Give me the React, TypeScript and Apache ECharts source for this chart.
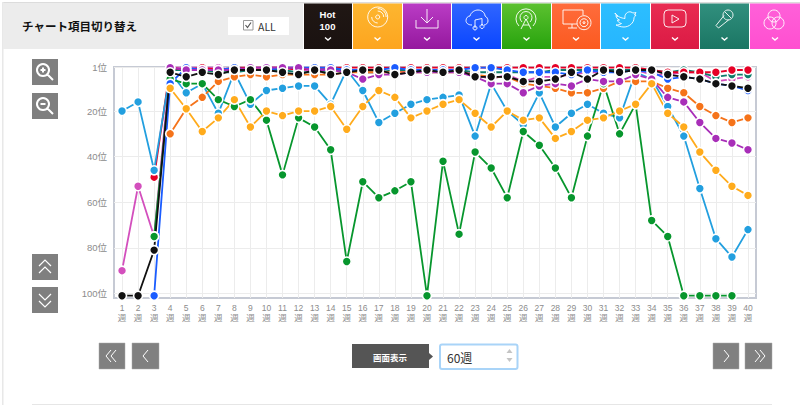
import React, { useEffect, useRef } from "react";
import * as echarts from "echarts";

const n = null;
const weeks = Array.from({ length: 40 }, (_, i) => `${i + 1}\n週`);
const yTicks = [1, 20, 40, 60, 80, 100];
const hot100 = [101,101,81,3,5,3,4,2,2,2,3,4,2,4,3,2,2,4,3,2,3,2,5,5,5,7,7,6,3,6,2,3,2,2,4,5,6,8,9,10];
const cdSales = [n,n,n,10,19,29,23,15,27,20,22,20,20,18,28,18,11,14,23,20,17,15,21,27,20,24,23,32,29,24,23,20,17,8,21,27,38,46,53,57];
const download = [n,n,n,1,2,2,2,2,1,1,1,1,2,2,3,6,4,4,3,3,3,3,5,8,8,12,9,8,9,6,7,7,4,6,14,16,25,32,34,37];
const streaming = [n,n,101,8,1,2,2,1,2,2,1,1,1,1,2,2,2,1,2,2,2,2,1,1,2,3,3,3,4,2,3,3,2,3,6,5,6,8,9,11];
const radio = [n,n,75,6,8,8,15,18,15,24,48,23,27,37,86,51,58,55,51,101,42,74,38,45,58,29,35,45,58,31,8,30,17,68,75,101,101,101,101,n];
const lookup = [n,n,n,30,19,14,7,5,4,5,4,4,4,4,3,3,3,3,3,3,3,3,4,5,5,8,9,10,12,12,10,7,7,7,10,12,18,22,25,23];
const twitter = [20,16,46,3,12,8,21,3,17,11,10,9,9,17,2,11,25,21,17,15,14,13,31,8,20,26,12,27,21,17,21,23,3,6,18,31,54,76,84,72];
const youtube = [n,n,49,1,2,1,2,1,1,1,1,2,1,1,1,1,1,1,1,1,1,1,1,1,1,1,1,1,1,1,1,1,1,2,3,3,3,3,2,2];
const karaoke = [n,n,n,2,2,2,3,3,2,2,2,3,3,2,2,3,3,2,2,2,2,2,3,3,3,3,3,2,2,2,2,2,2,2,3,2,3,5,4,4];
const pink = [90,53,75,1,1,1,1,2,1,1,1,2,2,1,2,3,3,3,2,2,2,2,4,6,4,7,5,5,4,3,3,2,2,4,4,3,3,7,6,5];

const seriesList: [string, (number | null)[], string][] = [
  ["複合", pink, "#d34fbd"],
  ["カラオケ", karaoke, "#0e7c6b"],
  ["YouTube", youtube, "#e60026"],
  ["Twitter", twitter, "#229fdf"],
  ["ルックアップ", lookup, "#f5731a"],
  ["ラジオ", radio, "#07962d"],
  ["ストリーミング", streaming, "#1a5cff"],
  ["ダウンロード", download, "#a82eb8"],
  ["CD", cdSales, "#ffab1c"],
  ["Hot 100", hot100, "#111111"],
];

const headerButtons: [number, number, string, string][] = [
  [304, 48, "#201714", "#1a1210"],
  [353, 49, "#fdb630", "#fda51f"],
  [403, 48, "#ba3cc5", "#95189e"],
  [452, 49, "#3065ff", "#0a46ff"],
  [502, 49, "#5cc130", "#27a30d"],
  [552, 48, "#ff6c3c", "#fb5a20"],
  [601, 49, "#2cbeff", "#26b6ff"],
  [651, 48, "#e92c52", "#db1a44"],
  [700, 49, "#318f7e", "#1a7663"],
  [750, 50, "#ff60d9", "#ff4fd0"],
];

const iconPaths: Record<string, string> = {
  disc: "M377.7 7a10 10 0 1 0 .01 0ZM377.7 11a6 6 0 0 1 6 6M377.7 8.5a8.5 8.5 0 0 1 8.5 8.5M377.7 15a2 2 0 1 0 .01 0ZM377.7 23a6 6 0 0 1 -6 -6",
  down: "M416 20V28H438V20M427 9V22M421 17L427 23L433 17",
  cloud: "M472 25C468 25 466 23 466 20.5C466 18 468 16 470 16C471 12 475 10 478 10C482 10 485 13 485 16C487 17 488 19 488 21C488 23 486 25 484 25M475 28V20L482 18.5V26M475 26a2 2 0 1 0 .01 0ZM482 24.5a2 2 0 1 0 .01 0Z",
  radio: "M519 26A10 10 0 1 1 533 26M522 22A6 6 0 1 1 530 22M526 15.5a2 2 0 1 0 .01 0ZM526 19L521 29M526 19L531 29M523 25H529",
  monitor: "M577 24H563V10H583V15M572 24V28M568 28H577M584 15.7a7 7 0 1 0 .01 0ZM584 18.7a4 4 0 1 0 .01 0ZM584 21.7a1 1 0 1 0 .01 0Z",
  bird: "M615 13C618 17 621 18 625 18.5C624 14 628 11 631 12C632 12.5 633 13 634 13L636 12.5L634.5 15L636 15C635 16.5 634 17 634 18C634 23 629 27 624 27C621 27 618 26 616 25C618.5 25 620 24.5 621.5 23.5C619 23 618 22 617.5 20C618 20.5 619 20 619.5 20C617 19 616 17 616 15.5C616 16 617 16.3 618 16.3C616 15 615 14 615 13Z",
  play: "M668 10H682Q686 10 686 14V23Q686 27 682 27H668Q664 27 664 23V14Q664 10 668 10ZM672 15V23L679 19Z",
  mic: "M728 10a5 5 0 1 0 .01 0ZM724 15.5L716 25.5L718.5 28L728.5 20M725 12L731 18",
  venn: "M774 10a6 6 0 1 0 .01 0ZM770 17a6 6 0 1 0 .01 0ZM778 17a6 6 0 1 0 .01 0Z",
  plus: "M43 64a6 6 0 1 0 .01 0ZM47.5 74.5L53 80M40.5 70H45.5M43 67.5V72.5",
  minus: "M43 98a6 6 0 1 0 .01 0ZM47.5 108.5L53 114M40.5 104H45.5",
  up2: "M39 266L45 260L51 266M39 273L45 267L51 273",
  dn2: "M39 294L45 300L51 294M39 301L45 307L51 301",
  first: "M111 350L106 356L111 362M116 350L111 356L116 362",
  prev: "M148 350L143 356L148 362",
  next: "M724 350L729 356L724 362",
  last: "M755 350L760 356L755 362M760 350L765 356L760 362",
};
Object.keys(iconPaths).forEach((k) => {
  echarts.graphic.registerShape("ic_" + k, echarts.graphic.extendPath(iconPaths[k], {}));
});

const JP = '"Noto Sans CJK JP", sans-serif';
const AXIS_FONT = '"Liberation Sans", "Noto Sans CJK JP", sans-serif';

function rect(x: number, y: number, w: number, h: number, fill: any, extra: any = {}) {
  return { type: "rect", shape: { x, y, width: w, height: h, r: extra.r || 0 }, style: { fill, stroke: extra.stroke, lineWidth: extra.lineWidth }, silent: true };
}
function icon(k: string, lw = 1, fill = "none") {
  return { type: "ic_" + k, x: 0, y: 0, style: { fill, stroke: "#fff", lineWidth: lw }, silent: true };
}
function label(text: string, x: number, y: number, size: number, color: string, weight = "normal", align = "left", family = JP) {
  return { type: "text", x, y, style: { text, fill: color, font: `${weight} ${size}px ${family}`, textAlign: align, textVerticalAlign: "middle" }, silent: true };
}
function chevron(cx: number) {
  return { type: "polyline", shape: { points: [[cx - 3, 37.5], [cx, 40], [cx + 3, 37.5]] }, style: { fill: "none", stroke: "#fff", lineWidth: 1.4 }, silent: true };
}

function buildGraphics() {
  const els: any[] = [];
  els.push(rect(2, 2, 798, 1.5, "#dcdcdc"));
  els.push(rect(2, 2, 1.5, 403, "#e8e8e8"));
  els.push(rect(3, 3, 300, 46, "#ececec"));
  els.push(label("チャート項目切り替え", 22, 26, 11.5, "#111", "bold"));
  els.push(rect(228, 17, 61, 18, "#ffffff"));
  els.push(rect(243.5, 20.5, 9.5, 9.5, "#fff", { stroke: "#999", lineWidth: 1 }));
  els.push({ type: "polyline", shape: { points: [[245.5, 25], [247.5, 27.5], [251, 22.5]] }, style: { fill: "none", stroke: "#555", lineWidth: 1.2 }, silent: true });
  els.push(label("ALL", 258, 26.5, 10.5, "#333"));
  headerButtons.forEach(([x, w, c1, c2]) => {
    els.push(rect(x, 3.5, w, 45.5, new echarts.graphic.LinearGradient(0, 0, 0, 1, [{ offset: 0, color: c1 }, { offset: 1, color: c2 }])));
    els.push(chevron(x + w / 2));
  });
  els.push(label("Hot", 327.5, 14, 9.5, "#fff", "bold", "center", AXIS_FONT));
  els.push(label("100", 327.5, 26, 9.5, "#fff", "bold", "center", AXIS_FONT));
  ["disc", "down", "cloud", "radio", "monitor", "bird", "play", "mic", "venn"].forEach((k) => els.push(icon(k, 0.9)));

  [[32, 59], [32, 93], [32, 254], [32, 287]].forEach(([x, y]) => els.push(rect(x, y, 26, 26, "#7f7f7f")));
  els.push(icon("plus", 2), icon("minus", 2), icon("up2", 1.2), icon("dn2", 1.2));
  [[99, 26], [132, 27], [713, 26], [745, 27]].forEach(([x, w]) => els.push(rect(x, 343, w, 26, "#808080", { stroke: "#a8a8a8", lineWidth: 0.5 })));
  els.push(icon("first", 1), icon("prev", 1), icon("next", 1), icon("last", 1));

  els.push(rect(352, 344, 77, 24, "#555555"));
  els.push({ type: "polygon", shape: { points: [[429, 353], [433, 356.5], [429, 360]] }, style: { fill: "#555" }, silent: true });
  els.push(label("画面表示", 390, 356.5, 8.5, "#fff", "bold", "center"));
  els.push(rect(440, 344.5, 77.5, 24.5, "#fff", { stroke: "#a9d4f8", lineWidth: 2, r: 2 }));
  els.push(label("60週", 447, 357, 12, "#333"));
  els.push({ type: "polygon", shape: { points: [[506.5, 353], [512.5, 353], [509.5, 349]] }, style: { fill: "#c4c4c4" }, silent: true });
  els.push({ type: "polygon", shape: { points: [[506.5, 358], [512.5, 358], [509.5, 362]] }, style: { fill: "#c4c4c4" }, silent: true });
  els.push(rect(32, 404, 740, 1, "#e6e6e6"));
  return els;
}

export default function App() {
  const ref = useRef<HTMLDivElement>(null);
  useEffect(() => {
    const chart = echarts.init(ref.current!, undefined, { renderer: "svg" });
    chart.setOption({
      animation: false,
      backgroundColor: "#ffffff",
      grid: { left: 114, top: 67, width: 642, height: 231, show: true, borderColor: "#c6cad4", borderWidth: 2, backgroundColor: "transparent" },
      xAxis: {
        type: "category",
        data: weeks,
        axisLine: { show: false },
        axisTick: { show: false },
        axisLabel: { interval: 0, color: "#8c8c8c", fontSize: 8.5, lineHeight: 10, margin: 5, fontFamily: AXIS_FONT },
        splitLine: { show: true, alignWithLabel: true, interval: 0, lineStyle: { color: "#ececec", width: 1 } },
      },
      yAxis: {
        type: "value",
        inverse: true,
        min: 0.69,
        max: 102,
        axisLine: { show: false },
        axisTick: { show: false, customValues: yTicks },
        axisLabel: { customValues: yTicks, color: "#8c8c8c", fontSize: 9.5, margin: 7, fontFamily: AXIS_FONT, formatter: (v: number) => `${v}位` },
        splitLine: { show: true, lineStyle: { color: "#ececec", width: 1 } },
      },
      series: seriesList.map(([name, data, color]) => ({
        name,
        type: "line",
        data,
        symbol: "circle",
        symbolSize: 9,
        showSymbol: true,
        showAllSymbol: true,
        clip: false,
        lineStyle: { color, width: 1.8 },
        itemStyle: { color, borderColor: "#ffffff", borderWidth: 1.6 },
      })),
      graphic: { elements: buildGraphics() },
    });
    return () => chart.dispose();
  }, []);
  return <div ref={ref} style={{ position: "absolute", left: 0, top: 0, width: 800, height: 405 }} />;
}
